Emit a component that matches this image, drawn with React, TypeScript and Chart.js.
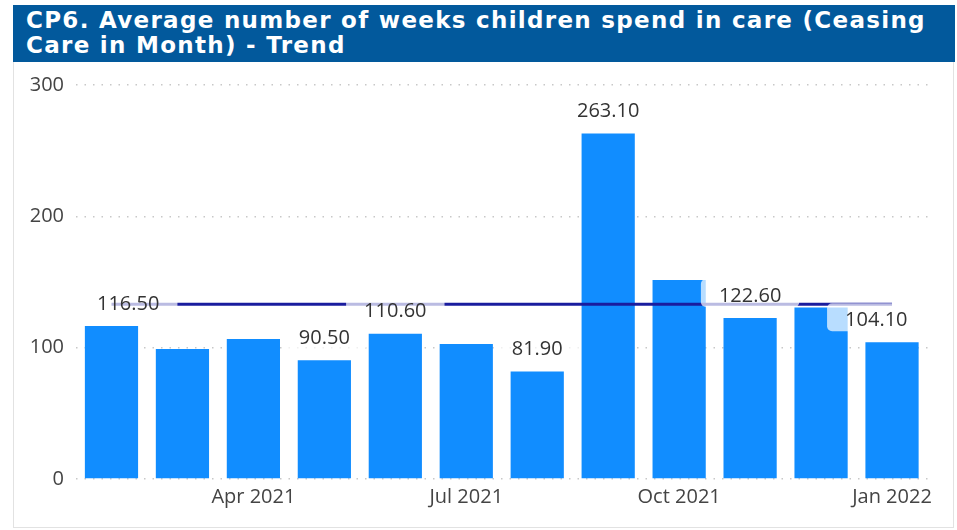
import React, { useEffect, useRef } from "react";
import { Chart, registerables } from "chart.js";

Chart.register(...registerables);

const titleLines = [
  "CP6. Average number of weeks children spend in care (Ceasing",
  "Care in Month) - Trend",
];
const categories = [
  "Feb 2021", "Mar 2021", "Apr 2021", "May 2021", "Jun 2021", "Jul 2021",
  "Aug 2021", "Sep 2021", "Oct 2021", "Nov 2021", "Dec 2021", "Jan 2022",
];
const weeks = [116.5, 99.0, 106.6, 90.5, 110.6, 102.8, 81.9, 263.1, 151.6, 122.6, 130.5, 104.1];
const averageLine = [133, 133, 133, 133, 133, 133, 133, 133, 133, 133, 133, 133];
const shownTickLabels = ["Apr 2021", "Jul 2021", "Oct 2021", "Jan 2022"];
const labelledMonths = ["Feb 2021", "May 2021", "Jun 2021", "Aug 2021", "Sep 2021", "Nov 2021", "Jan 2022"];
const yMin = 0;
const yMax = 300;
const yStep = 100;

const BAR_COLOR = "#118DFF";
const LINE_COLOR = "#1A1C9E";
const TEXT_FONT = '"Open Sans", "Noto Sans", sans-serif';

const labelPlugin = {
  id: "valueLabels",
  afterDatasetsDraw(chart: any) {
    const ctx = chart.ctx;
    const area = chart.chartArea;
    const meta = chart.getDatasetMeta(1);
    ctx.save();
    ctx.font = `20px ${TEXT_FONT}`;
    ctx.textBaseline = "middle";
    ctx.textAlign = "center";
    categories.forEach((cat, i) => {
      if (!labelledMonths.includes(cat)) return;
      const bar = meta.data[i];
      const text = weeks[i].toFixed(2);
      const w = ctx.measureText(text).width;
      const half = w / 2;
      let cx = bar.x;
      cx = Math.max(cx, area.left + 21 + half);
      cx = Math.min(cx, area.right - 20 - half);
      const cy = bar.y - 23;
      const bx = cx - half - 18;
      const by = cy - 16;
      const bw = w + 36;
      const bh = 28;
      ctx.fillStyle = "rgba(255,255,255,0.7)";
      ctx.beginPath();
      if (ctx.roundRect) ctx.roundRect(bx, by, bw, bh, 5);
      else ctx.rect(bx, by, bw, bh);
      ctx.fill();
      ctx.fillStyle = "#333333";
      ctx.fillText(text, cx, cy + 1);
    });
    ctx.restore();
  },
};

export default function App() {
  const canvasRef = useRef<HTMLCanvasElement | null>(null);

  useEffect(() => {
    const canvas = canvasRef.current;
    if (!canvas) return;
    const chart = new Chart(canvas, {
      data: {
        labels: categories,
        datasets: [
          {
            type: "line" as const,
            label: "Average",
            data: averageLine,
            borderColor: LINE_COLOR,
            borderWidth: 3,
            pointRadius: 0,
            fill: false,
            order: 0,
          },
          {
            type: "bar" as const,
            label: "Average weeks in care",
            data: weeks,
            backgroundColor: BAR_COLOR,
            borderWidth: 0,
            categoryPercentage: 1,
            barPercentage: 0.75,
            order: 1,
          },
        ],
      },
      options: {
        responsive: false,
        animation: false,
        layout: { padding: { left: 0, top: 85, right: 29.5, bottom: 11 } },
        plugins: {
          legend: { display: false },
          tooltip: { enabled: false },
          title: { display: false },
        },
        scales: {
          x: {
            grid: { display: false, drawTicks: false },
            border: { display: false },
            ticks: {
              autoSkip: false,
              maxRotation: 0,
              padding: 6,
              color: "#444444",
              font: { family: TEXT_FONT, size: 20 },
              callback: (_v: any, i: number) =>
                shownTickLabels.includes(categories[i]) ? categories[i] : "",
            },
            afterFit: (s: any) => {
              s.height = 40;
            },
          },
          y: {
            min: yMin,
            max: yMax,
            border: { display: false, dash: [1.5, 7] },
            grid: {
              color: "#c8c8c8",
              lineWidth: 1.5,
              drawTicks: false,
            },
            ticks: {
              stepSize: yStep,
              padding: 12,
              color: "#444444",
              font: { family: TEXT_FONT, size: 20 },
            },
            afterFit: (s: any) => {
              s.width = 76;
            },
          },
        },
      },
      plugins: [labelPlugin],
    } as any);
    return () => chart.destroy();
  }, []);

  return (
    <div
      style={{
        position: "fixed",
        left: 0,
        top: 0,
        width: 957,
        height: 530,
        background: "#ffffff",
        overflow: "hidden",
      }}
    >
      <div
        style={{
          position: "absolute",
          left: 13,
          top: 62,
          width: 939,
          height: 465,
          borderLeft: "1px solid #e2e2e2",
          borderRight: "1px solid #e2e2e2",
          borderBottom: "1px solid #e2e2e2",
        }}
      />
      <div
        style={{
          position: "absolute",
          left: 13,
          top: 5,
          width: 942,
          height: 57,
          background: "#02599C",
          color: "#ffffff",
          fontFamily: '"DejaVu Sans", sans-serif',
          fontWeight: "bold",
          fontSize: 23,
          letterSpacing: "1.3px",
          lineHeight: "25px",
          paddingLeft: 13,
          paddingTop: 3,
          boxSizing: "border-box",
          whiteSpace: "nowrap",
        }}
      >
        {titleLines.map((t, i) => (
          <div key={i}>{t}</div>
        ))}
      </div>
      <canvas
        ref={canvasRef}
        width={957}
        height={530}
        style={{ position: "absolute", left: 0, top: 0, width: 957, height: 530 }}
      />
    </div>
  );
}
